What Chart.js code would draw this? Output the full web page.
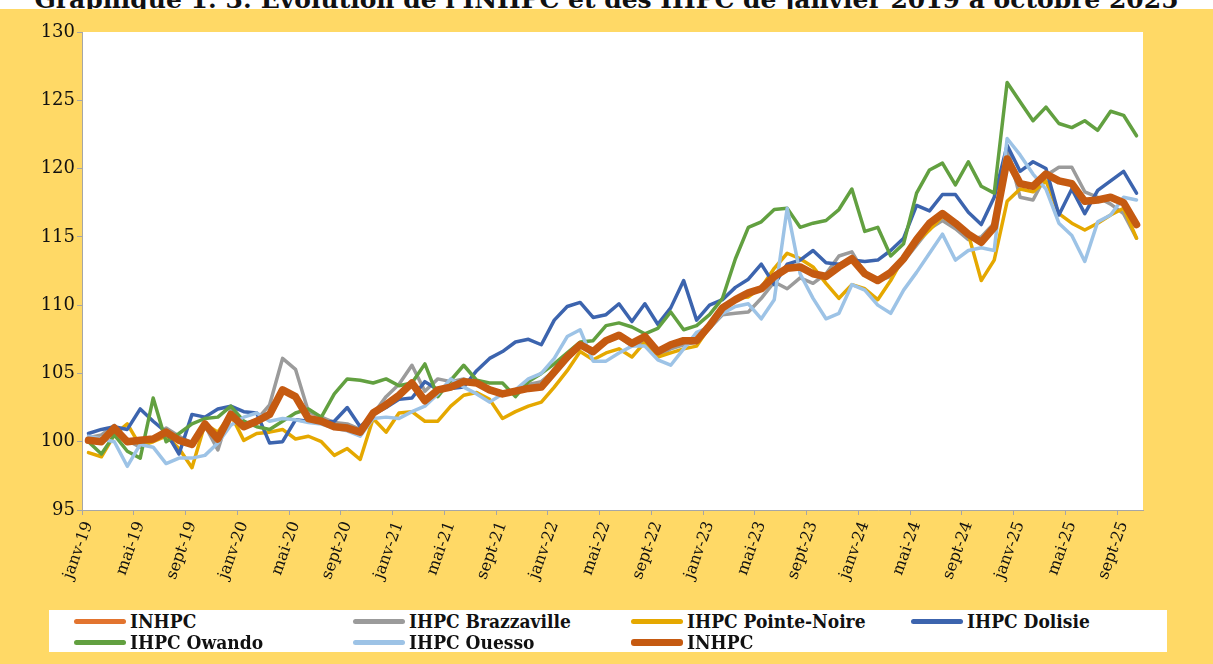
<!DOCTYPE html>
<html>
<head>
<meta charset="utf-8">
<script src="https://cdn.jsdelivr.net/npm/chart.js@4.4.1/dist/chart.umd.min.js"></script>
<style>
  html, body { margin: 0; padding: 0; background: #fff; }
  body { width: 1213px; height: 664px; position: relative; overflow: hidden; }
  #title {
    position: absolute; left: 0; top: 0; width: 1213px; height: 9px; overflow: hidden;
  }
  #title span {
    position: absolute; left: 0; width: 1213px; top: -13px; text-align: center;
    font: bold 25px/25px "DejaVu Serif", serif; color: #111; white-space: nowrap;
  }
  #box { position: absolute; left: 0; top: 9px; width: 1213px; height: 655px; background: #FFD966; }
  #legend {
    position: absolute; left: 49px; top: 610px; width: 1118px; height: 42px; background: #fff;
  }
  .item { position: absolute; height: 20px; display: flex; align-items: center; }
  .item i { display: inline-block; width: 52px; border-radius: 3px; margin-right: 4px; }
  .item b { font: bold 19px "DejaVu Serif Condensed", "DejaVu Serif", serif; font-stretch: condensed; color: #111; }
</style>
</head>
<body>
<div id="title"><span>Graphique 1. 3: Evolution de l'INHPC et des IHPC de janvier 2019 à octobre 2025</span></div>
<div id="box"><canvas id="myChart" width="1213" height="655"></canvas></div>
<div id="legend"></div>
<script>
const months = ['janv', 'févr', 'mars', 'avr', 'mai', 'juin', 'juil', 'août', 'sept', 'oct', 'nov', 'déc'];
const labels = [];
for (let y = 19; y <= 25; y++) {
    for (let m = 0; m < 12; m++) {
        if (y === 25 && m > 9) break;
        labels.push(`${months[m]}-${y}`);
    }
}

const inhpc = [100.1, 100.0, 101.0, 100.0, 100.1, 100.2, 100.7, 100.1, 99.8, 101.3, 100.2, 102.0,
    101.1, 101.5, 102.0, 103.8, 103.3, 101.7, 101.5, 101.1, 101.0, 100.7, 102.1, 102.7,
    103.4, 104.3, 103.0, 103.8, 104.0, 104.4, 104.3, 103.8, 103.5, 103.7, 103.9, 104.0,
    105.1, 106.2, 107.1, 106.6, 107.4, 107.8, 107.2, 107.7, 106.6, 107.1, 107.4, 107.4,
    108.5, 109.8, 110.4, 110.9, 111.2, 112.1, 112.7, 112.8, 112.3, 112.1, 112.8, 113.4,
    112.3, 111.8, 112.4, 113.4, 114.8, 116.0, 116.7, 116.0, 115.2, 114.6, 115.7, 120.7,
    118.9, 118.7, 119.6, 119.1, 118.9, 117.6, 117.7, 117.9, 117.5, 115.9];
const brazzaville = [100.3, 100.5, 101.2, 100.1, 99.6, 100.1, 101.0, 100.4, 99.9, 101.2, 99.4, 102.4,
    101.3, 101.6, 102.7, 106.1, 105.3, 102.2, 101.8, 101.4, 101.3, 100.9, 102.0, 103.3,
    104.2, 105.6, 103.7, 104.6, 104.4, 104.6, 104.2, 103.7, 103.6, 103.8, 104.2, 104.4,
    105.2, 106.0, 107.0, 106.5, 107.3, 107.7, 107.0, 107.3, 106.2, 106.8, 107.1, 107.3,
    108.3, 109.3, 109.4, 109.5, 110.5, 111.7, 111.2, 112.0, 111.6, 112.3, 113.6, 113.9,
    112.3, 111.8, 112.1, 113.2, 114.4, 115.6, 116.2, 115.6, 114.8, 115.0, 116.0, 121.6,
    117.9, 117.7, 119.5, 120.1, 120.1, 118.3, 117.9, 117.4, 116.7, 114.9];
const pointeNoire = [99.2, 98.9, 100.5, 101.3, 99.7, 100.0, 100.4, 99.5, 98.1, 101.3, 100.7, 102.0,
    100.1, 100.6, 100.7, 100.9, 100.2, 100.4, 100.0, 99.0, 99.5, 98.7, 101.7, 100.7,
    102.1, 102.2, 101.5, 101.5, 102.6, 103.4, 103.6, 103.1, 101.7, 102.2, 102.6, 102.9,
    104.0, 105.2, 106.6, 106.0, 106.5, 106.8, 106.2, 107.3, 106.2, 106.5, 106.8, 107.0,
    108.4, 109.8, 110.5, 110.6, 111.3, 112.7, 113.8, 113.4, 112.8, 111.6, 110.5, 111.5,
    111.2, 110.4, 111.8, 113.5, 114.6, 115.5, 116.5, 115.9, 115.2, 111.8, 113.3, 117.6,
    118.5, 118.3, 119.1, 116.7, 116.0, 115.5, 116.0, 116.6, 117.1, 114.9];
const dolisie = [100.6, 100.9, 101.1, 100.9, 102.4, 101.5, 100.7, 99.1, 102.0, 101.8, 102.4, 102.6,
    102.2, 102.1, 99.9, 100.0, 101.6, 101.5, 101.4, 101.5, 102.5, 101.1, 102.0, 102.5,
    103.1, 103.2, 104.4, 103.8, 103.9, 104.0, 105.2, 106.1, 106.6, 107.3, 107.5, 107.1,
    108.9, 109.9, 110.2, 109.1, 109.3, 110.1, 108.8, 110.1, 108.6, 109.8, 111.8, 108.9,
    110.0, 110.4, 111.3, 111.9, 113.0, 111.5, 113.0, 113.3, 114.0, 113.1, 113.0, 113.3,
    113.2, 113.3, 114.0, 114.9, 117.3, 116.9, 118.1, 118.1, 116.8, 115.9, 117.9, 121.7,
    119.8, 120.5, 120.0, 116.6, 118.5, 116.7, 118.4, 119.1, 119.8, 118.2];
const owando = [100.0, 99.1, 100.5, 99.3, 98.8, 103.2, 100.0, 100.6, 101.3, 101.7, 101.8, 102.6,
    101.5, 101.1, 100.9, 101.5, 102.1, 102.4, 101.8, 103.5, 104.6, 104.5, 104.3, 104.6,
    104.1, 104.3, 105.7, 103.3, 104.5, 105.6, 104.5, 104.3, 104.3, 103.3, 104.4, 105.0,
    105.7, 106.5, 107.3, 107.4, 108.5, 108.7, 108.4, 107.9, 108.3, 109.5, 108.2, 108.5,
    109.3, 110.5, 113.4, 115.7, 116.1, 117.0, 117.1, 115.7, 116.0, 116.2, 117.0, 118.5,
    115.4, 115.7, 113.6, 114.5, 118.2, 119.9, 120.4, 118.8, 120.5, 118.7, 118.2, 126.3,
    124.9, 123.5, 124.5, 123.3, 123.0, 123.5, 122.8, 124.2, 123.9, 122.4];
const ouesso = [100.4, 100.2, 100.0, 98.2, 99.8, 99.6, 98.4, 98.8, 98.8, 99.0, 99.9, 101.2,
    101.8, 102.1, 101.5, 101.7, 101.6, 101.4, 101.3, 101.0, 100.8, 100.4, 101.7, 101.8,
    101.7, 102.2, 102.6, 103.5, 104.6, 104.0, 103.5, 102.9, 103.5, 103.8, 104.6, 105.0,
    106.1, 107.7, 108.2, 105.9, 105.9, 106.5, 107.0, 107.0, 106.0, 105.6, 106.8, 108.0,
    108.4, 109.4, 109.9, 110.1, 109.0, 110.4, 117.1, 112.3, 110.5, 109.0, 109.4, 111.5,
    111.1, 110.0, 109.4, 111.1, 112.4, 113.8, 115.2, 113.3, 114.0, 114.2, 114.0, 122.2,
    121.0, 119.6, 118.5, 116.0, 115.1, 113.2, 116.1, 116.6, 117.9, 117.7];

const series = [
    { label: 'INHPC', data: inhpc, color: '#E2742F', width: 3.5 },
    { label: 'IHPC Brazzaville', data: brazzaville, color: '#9B9B9B', width: 3.5 },
    { label: 'IHPC Pointe-Noire', data: pointeNoire, color: '#E5A800', width: 3.5 },
    { label: 'IHPC Dolisie', data: dolisie, color: '#3C64AE', width: 3.5 },
    { label: 'IHPC Owando', data: owando, color: '#62A040', width: 3.5 },
    { label: 'IHPC Ouesso', data: ouesso, color: '#9DC3E6', width: 3.5 },
    { label: 'INHPC', data: inhpc, color: '#C55A11', width: 7.5 }
];

const axisColor = '#A6A6A6';

const plotBackground = {
    id: 'plotBackground',
    beforeDraw(chart) {
        const { ctx, chartArea } = chart;
        ctx.save();
        ctx.fillStyle = '#fff';
        ctx.fillRect(chartArea.left, chartArea.top, chartArea.right - chartArea.left, chartArea.bottom - chartArea.top);
        ctx.restore();
    }
};

const ctx = document.getElementById('myChart').getContext('2d');
const chart = new Chart(ctx, {
    type: 'line',
    data: {
        labels: labels,
        datasets: series.map((s, i) => ({
            label: s.label,
            data: s.data,
            borderColor: s.color,
            borderWidth: s.width,
            fill: false,
            tension: 0,
            pointRadius: 0,
            borderJoinStyle: 'round',
            borderCapStyle: 'round',
            order: series.length - i
        }))
    },
    options: {
        responsive: false,
        animation: false,
        layout: { padding: { top: 23, right: 70, left: 0, bottom: 0 } },
        plugins: {
            legend: { display: false },
            tooltip: { enabled: false }
        },
        scales: {
            x: {
                offset: true,
                afterFit: (scale) => { scale.height = 154; },
                grid: {
                    offset: true,
                    drawOnChartArea: false,
                    tickLength: 5,
                    tickColor: (c) => (c.index % 4 === 0 && c.index < labels.length) ? axisColor : 'rgba(0,0,0,0)'
                },
                border: { color: axisColor, width: 1 },
                ticks: {
                    autoSkip: false,
                    minRotation: 70,
                    maxRotation: 70,
                    padding: 4,
                    color: '#111',
                    font: { family: 'DejaVu Serif', size: 16 },
                    callback: (v, i) => (i % 4 === 0 ? labels[i] : '')
                }
            },
            y: {
                min: 95,
                max: 130,
                afterFit: (scale) => { scale.width = 82; },
                grid: { drawOnChartArea: false, tickLength: 5, color: axisColor },
                border: { color: axisColor, width: 1 },
                ticks: {
                    stepSize: 5,
                    padding: 2,
                    color: '#111',
                    font: { family: 'DejaVu Serif', size: 18 }
                }
            }
        }
    },
    plugins: [plotBackground]
});

// legend, 4 columns like the original
const legend = document.getElementById('legend');
const colX = [25, 304, 582, 862];
const rowY = [1, 22];
chart.data.datasets.forEach((d, i) => {
    const el = document.createElement('div');
    el.className = 'item';
    el.style.left = colX[i % 4] + 'px';
    el.style.top = rowY[Math.floor(i / 4)] + 'px';
    const h = d.borderWidth > 5 ? 7 : 5;
    el.innerHTML = `<i style="background:${d.borderColor};height:${h}px"></i><b>${d.label}</b>`;
    legend.appendChild(el);
});
</script>
</body>
</html>
